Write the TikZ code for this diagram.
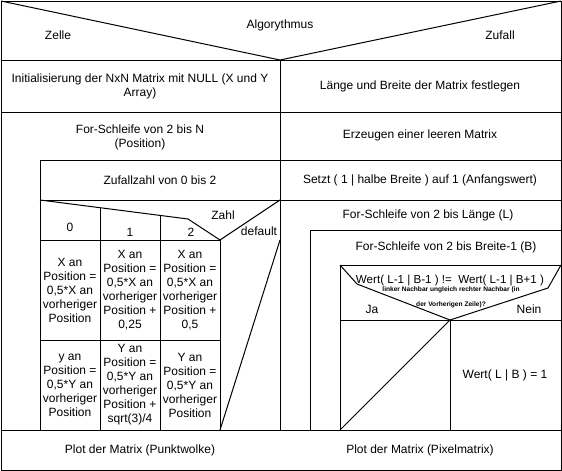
\documentclass[tikz,border=0pt]{standalone}
\usepackage{fontspec}
\setmainfont{Liberation Sans}
\usetikzlibrary{positioning}
\tikzset{
  nsline/.style={line width=1pt,draw=black},
  nstext/.style={align=center,inner sep=0pt,font=\fontsize{12}{14}\selectfont},
  hint/.style={align=center,inner sep=0pt,font=\fontsize{6.6}{15}\selectfont\bfseries},
}

\begin{document}
\begin{tikzpicture}[x=1pt,y=-1pt]
        \useasboundingbox (0,0) rectangle (562,471);
        \fill[white] (0,0) rectangle (562,471);
        % frame and head
        \draw[nsline] (1,1) rectangle (561,470);
        \draw[nsline] (1,1) -- (280,60) -- (561,1);
        \draw[nsline] (1,60) -- (561,60);
        \draw[nsline] (1,112) -- (561,112);
        \draw[nsline] (280,60) -- (280,430);
        \draw[nsline] (1,430) -- (561,430);
        % Zelle
        \draw[nsline] (40,430) -- (40,160) -- (280,160);
        \draw[nsline] (40,200) -- (280,200);
        \draw[nsline] (40,200) -- (188,219) -- (220,240) -- (280,200);
        \draw[nsline] (100,208) -- (100,430);
        \draw[nsline] (160,215) -- (160,430);
        \draw[nsline] (220,240) -- (220,430);
        \draw[nsline] (40,240) -- (220,240);
        \draw[nsline] (40,340) -- (220,340);
        \draw[nsline] (220,430) -- (280,240);
        % Zufall
        \draw[nsline] (280,160) -- (561,160);
        \draw[nsline] (280,200) -- (561,200);
        \draw[nsline] (310,430) -- (310,230) -- (561,230);
        \draw[nsline] (340,430) -- (340,265) -- (561,265);
        \draw[nsline] (340,265) -- (357,284) -- (450,320) -- (548,288) -- (561,265);
        \draw[nsline] (340,320) -- (561,320);
        \draw[nsline] (450,320) -- (450,430);
        \draw[nsline] (340,430) -- (450,320);

        \node[nstext] (algo) at (280,25) {Algorythmus};
        \node[nstext] (zelle) at (58,35) {Zelle};
        \node[nstext] (zufall) at (500,35) {Zufall};
        \node[nstext] (init) at (140,86) {Initialisierung der NxN Matrix mit NULL (X und Y\\Array)};
        \node[nstext] (laenge) at (420,86) {Länge und Breite der Matrix festlegen};
        \node[nstext] (forn) at (140,137) {For-Schleife von 2 bis N\\(Position)};
        \node[nstext] (leer) at (420,135) {Erzeugen einer leeren Matrix};
        \node[nstext] (zz) at (160,180) {Zufallzahl von 0 bis 2};
        \node[nstext] (setzt) at (420,180) {Setzt ( 1 | halbe Breite ) auf 1 (Anfangswert)};
        \node[nstext] (c0) at (70,227) {0};
        \node[nstext] (c1) at (130,232) {1};
        \node[nstext] (c2) at (191,232) {2};
        \node[nstext] (zahl) at (223,215) {Zahl};
        \node[nstext] (dflt) at (259,231) {default};
        \node[nstext] (x0) at (70,290) {X an\\Position =\\0,5*X an\\vorheriger\\Position};
        \node[nstext] (x1) at (130,290) {X an\\Position =\\0,5*X an\\vorheriger\\Position +\\0,25};
        \node[nstext] (x2) at (190,290) {X an\\Position =\\0,5*X an\\vorheriger\\Position +\\0,5};
        \node[nstext] (y0) at (70,385) {y an\\Position =\\0,5*Y an\\vorheriger\\Position};
        \node[nstext] (y1) at (130,385) {Y an\\Position =\\0,5*Y an\\vorheriger\\Position +\\sqrt(3)/4};
        \node[nstext] (y2) at (190,385) {Y an\\Position =\\0,5*Y an\\vorheriger\\Position};
        \node[nstext] (forl) at (428,215) {For-Schleife von 2 bis Länge (L)};
        \node[nstext] (forb) at (446,247) {For-Schleife von 2 bis Breite-1 (B)};
        \node[nstext,font=\fontsize{11.6}{14}\selectfont] (wert) at (450,281) {Wert( L-1 | B-1 ) !=\ \ Wert( L-1 | B+1 )};
        \node[hint] (frage) at (451,297.5) {linker Nachbar ungleich rechter Nachbar (in\\der Vorherigen Zeile)?};
        \node[nstext] (ja) at (372,309) {Ja};
        \node[nstext] (nein) at (529,309) {Nein};
        \node[nstext] (eins) at (505,375) {Wert( L | B ) = 1};
        \node[nstext] (punkt) at (140,450) {Plot der Matrix (Punktwolke)};
        \node[nstext] (pixel) at (420,450) {Plot der Matrix (Pixelmatrix)};
      \end{tikzpicture}
\end{document}
